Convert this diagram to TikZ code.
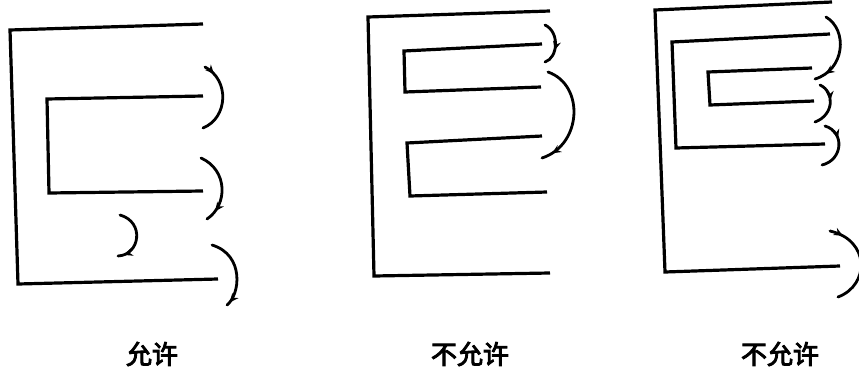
\documentclass[tikz,border=0pt]{standalone}
\usepackage{fontspec}
\newfontfamily\cjk[FakeBold=3.5]{Noto Sans CJK SC}
\usetikzlibrary{arrows.meta,decorations.markings}
\tikzset{
  wire/.style={line width=3.2pt, line join=miter, line cap=butt},
  arcline/.style={line width=2.8pt, line cap=round},
  midtip/.style={decoration={markings, mark=at position #1 with {\arrow{Stealth[length=9pt,width=8pt]}}}, postaction={decorate}},
  caption/.style={font=\cjk\fontsize{26}{26}\selectfont, inner sep=0pt}
}
\begin{document}
\begin{tikzpicture}[x=1pt,y=-1pt]
\useasboundingbox (0,0) rectangle (859,369);
% ---------- diagram 1 ----------
\draw[wire] (203,24) -- (10,30) -- (18,284) -- (218,279);
\draw[wire] (203,96) -- (47,99) -- (49,193) -- (203,191);
\draw[arcline, midtip=0.15] (205,67) .. controls (230,80) and (228,118) .. (203,128);
\draw[arcline, midtip=0.85] (201,158) .. controls (228,170) and (228,205) .. (207,219);
\draw[arcline, midtip=0.9] (120,215) .. controls (145,222) and (140,255) .. (118,256);
\draw[arcline, midtip=0.95] (212,245) .. controls (245,255) and (240,295) .. (227,305);
% ---------- diagram 2 ----------
\draw[wire] (550,11) -- (368,17) -- (374,276) -- (550,273);
\draw[wire] (542,44) -- (404,51) -- (405,92) -- (541,87);
\draw[wire] (542,136) -- (407,143) -- (410,196) -- (547,192);
\draw[arcline, midtip=0.65] (545,25) .. controls (560,32) and (558,58) .. (545,62);
\draw[arcline, midtip=0.9] (548,72) .. controls (585,85) and (582,145) .. (542,158);
% ---------- diagram 3 ----------
\draw[wire] (832,2) -- (655,10) -- (665,272) -- (840,266);
\draw[wire] (830,34) -- (672,42) -- (676,148) -- (825,144);
\draw[wire] (812,68) -- (708,72) -- (710,105) -- (814,101);
\draw[arcline, midtip=0.85] (826,17) .. controls (848,30) and (845,70) .. (815,79);
\draw[arcline, midtip=0.4] (820,85) .. controls (835,92) and (834,115) .. (815,122);
\draw[arcline, midtip=0.35] (825,126) .. controls (845,132) and (843,160) .. (822,165);
\draw[arcline, midtip=0.15] (830,231) .. controls (870,240) and (870,285) .. (838,297);
% ---------- captions ----------
\node[caption] (c1) at (152,354) {允许};
\node[caption] (c2) at (470,354) {不允许};
\node[caption] (c3) at (780,354) {不允许};
\end{tikzpicture}
\end{document}
